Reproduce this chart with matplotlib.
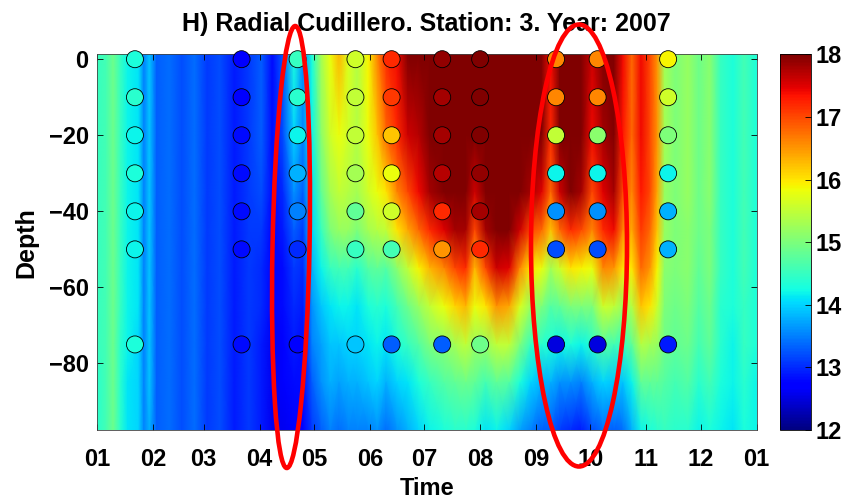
import numpy as np
import matplotlib
matplotlib.use("Agg")
import matplotlib.pyplot as plt
from matplotlib.patches import Ellipse

plt.rcParams['font.family'] = 'Liberation Sans'
plt.rcParams['font.weight'] = 'bold'

# model field: day of year (2007) and depth levels (m)
days = [0, 5, 9, 13, 17, 23, 26, 29, 33, 40, 47, 54, 61, 68, 76, 84, 91, 97, 103, 109,
        114, 119, 124, 129, 134, 139, 144, 150, 155, 160, 166, 172, 178, 184, 192, 198, 204, 209, 215, 221,
        228, 234, 240, 246, 251, 256, 262, 268, 274, 280, 286, 291, 296, 301, 306, 310, 314, 320, 327, 333,
        339, 345, 352, 358, 365]
levels = [1.3, -20, -35, -45, -55, -65, -75, -85, -97.5]

# temperature (degC) along each depth level
t_surf = [14.5, 14.6, 14.9, 14.5, 14.2, 14.1, 13.5, 13.9, 13.3, 13.4, 13.2, 13.4, 13.1, 13.2, 12.9,
          13.1, 13.3, 12.8, 13.3, 14.3, 13.6, 14.3, 15.3, 15.8, 16.3, 15.7, 15.4, 15.9, 16.6, 17.2,
          17.4, 18.0, 18.0, 18.0, 18.0, 18.0, 18.0, 18.0, 18.0, 18.0, 18.0, 18.0, 18.0, 18.0, 17.4,
          18.0, 18.0, 18.0, 17.6, 18.0, 18.0, 17.4, 16.8, 17.4, 17.0, 16.5, 15.3, 15.0, 15.2, 14.9,
          15.1, 14.5, 14.3, 14.6, 14.3]
t_20 = [14.5, 14.6, 14.9, 14.5, 14.2, 14.1, 13.5, 13.9, 13.3, 13.4, 13.2, 13.4, 13.1, 13.2, 12.9,
        13.1, 13.3, 12.8, 13.2, 14.0, 13.5, 14.2, 15.1, 15.6, 15.8, 15.6, 15.4, 15.8, 16.2, 16.8,
        17.2, 17.6, 17.7, 18.0, 18.0, 18.0, 18.0, 18.0, 18.0, 18.0, 18.0, 18.0, 18.0, 18.0, 17.2,
        18.0, 18.0, 18.0, 17.4, 17.8, 18.0, 17.3, 16.8, 17.4, 17.0, 16.5, 15.3, 15.0, 15.2, 14.9,
        15.1, 14.5, 14.3, 14.6, 14.3]
t_35 = [14.5, 14.6, 14.9, 14.5, 14.2, 14.1, 13.5, 13.9, 13.3, 13.4, 13.2, 13.4, 13.1, 13.2, 12.9,
        13.1, 13.2, 12.8, 13.0, 13.6, 13.3, 14.1, 14.8, 15.3, 15.5, 15.4, 15.3, 15.6, 15.8, 16.0,
        16.6, 17.0, 17.4, 17.8, 18.0, 18.0, 18.0, 17.6, 18.0, 18.0, 18.0, 18.0, 17.8, 17.5, 16.8,
        17.6, 18.0, 17.8, 17.0, 17.5, 17.8, 17.0, 16.6, 17.3, 17.0, 16.4, 15.2, 15.0, 15.2, 14.9,
        15.1, 14.5, 14.3, 14.6, 14.3]
t_45 = [14.5, 14.6, 14.9, 14.5, 14.2, 14.1, 13.5, 13.9, 13.3, 13.4, 13.2, 13.4, 13.1, 13.2, 12.9,
        13.1, 13.1, 12.7, 12.9, 13.3, 13.1, 14.0, 14.5, 15.0, 15.2, 15.2, 15.0, 15.3, 15.4, 15.5,
        16.0, 16.4, 16.8, 17.2, 17.5, 17.8, 17.8, 17.0, 17.8, 18.0, 18.0, 17.6, 17.0, 16.8, 16.2,
        16.8, 17.2, 17.0, 16.6, 17.2, 17.4, 16.6, 16.4, 17.1, 16.8, 16.2, 15.2, 15.0, 15.1, 14.9,
        15.0, 14.5, 14.3, 14.6, 14.3]
t_55 = [14.5, 14.6, 14.9, 14.5, 14.2, 14.1, 13.5, 13.9, 13.3, 13.4, 13.2, 13.4, 13.1, 13.2, 12.9,
        13.1, 13.0, 12.7, 12.8, 13.1, 13.0, 13.8, 14.2, 14.5, 14.6, 14.6, 14.4, 14.7, 14.8, 14.7,
        15.1, 15.5, 15.9, 16.3, 16.6, 17.0, 17.2, 16.3, 17.0, 17.6, 17.5, 16.6, 16.0, 15.8, 15.3,
        15.6, 16.0, 15.9, 15.8, 16.6, 16.5, 16.0, 16.0, 16.8, 16.5, 15.9, 15.1, 15.0, 15.1, 14.8,
        15.0, 14.5, 14.3, 14.6, 14.3]
t_65 = [14.5, 14.6, 14.9, 14.5, 14.2, 14.1, 13.5, 13.9, 13.3, 13.4, 13.2, 13.4, 13.1, 13.2, 12.9,
        13.1, 13.0, 12.7, 12.8, 13.0, 12.9, 13.6, 13.9, 14.1, 14.2, 14.2, 14.1, 14.3, 14.4, 14.3,
        14.6, 14.9, 15.2, 15.5, 15.8, 16.1, 16.3, 15.8, 16.0, 16.5, 16.4, 15.7, 15.2, 15.0, 14.7,
        14.8, 15.0, 15.0, 15.0, 15.6, 15.5, 15.2, 15.4, 16.2, 16.0, 15.6, 15.0, 14.9, 15.0, 14.7,
        14.9, 14.4, 14.3, 14.5, 14.3]
t_75 = [14.5, 14.6, 14.9, 14.4, 14.2, 14.0, 13.5, 13.9, 13.3, 13.4, 13.2, 13.4, 13.1, 13.2, 12.9,
        13.1, 12.9, 12.6, 12.7, 12.9, 12.8, 13.5, 13.7, 13.9, 13.9, 14.0, 14.0, 14.1, 14.2, 14.1,
        14.3, 14.5, 14.7, 15.0, 15.1, 15.3, 15.5, 15.2, 15.2, 15.5, 15.5, 15.0, 14.5, 14.4, 14.3,
        14.2, 14.3, 14.2, 14.4, 14.7, 14.6, 14.5, 14.8, 15.4, 15.3, 15.2, 14.9, 14.8, 14.9, 14.6,
        14.8, 14.4, 14.2, 14.5, 14.3]
t_85 = [14.4, 14.6, 14.9, 14.4, 14.1, 14.0, 13.5, 13.9, 13.3, 13.4, 13.2, 13.4, 13.1, 13.2, 12.9,
        13.1, 12.9, 12.6, 12.7, 12.8, 12.8, 13.3, 13.6, 13.8, 13.7, 13.8, 13.8, 13.9, 14.0, 13.8,
        14.0, 14.1, 14.3, 14.5, 14.7, 14.8, 14.9, 14.8, 14.6, 14.8, 14.7, 14.3, 14.0, 13.8, 13.8,
        13.6, 13.6, 13.5, 13.8, 14.0, 13.9, 13.9, 14.2, 14.8, 14.8, 14.8, 14.7, 14.6, 14.7, 14.4,
        14.6, 14.3, 14.2, 14.4, 14.2]
t_bottom = [14.4, 14.6, 14.9, 14.4, 14.1, 14.0, 13.5, 13.8, 13.3, 13.4, 13.2, 13.4, 13.1, 13.2, 12.9,
            13.1, 12.9, 12.6, 12.6, 12.7, 12.7, 13.1, 13.3, 13.5, 13.4, 13.5, 13.5, 13.5, 13.6, 13.4,
            13.6, 13.8, 14.0, 14.2, 14.3, 14.4, 14.4, 14.3, 14.1, 14.2, 14.0, 13.7, 13.5, 13.3, 13.3,
            13.1, 13.0, 12.9, 13.2, 13.4, 13.3, 13.4, 13.8, 14.2, 14.3, 14.4, 14.5, 14.4, 14.4, 14.2,
            14.3, 14.2, 14.1, 14.3, 14.2]

# CTD station observations
st_days = [21, 80, 111, 143, 163, 191, 212, 254, 277, 316]
st_depths = [0, -10, -20, -30, -40, -50, -75]
obs_0 = [14.3, 12.7, 14.5, 15.6, 17.2, 17.9, 18.0, 16.6, 16.6, 15.9]
obs_10 = [14.4, 12.7, 14.4, 15.5, 17.1, 17.8, 18.0, 16.6, 16.6, 15.6]
obs_20 = [14.2, 12.8, 14.2, 15.5, 16.2, 17.8, 18.0, 15.5, 15.1, 15.0]
obs_30 = [14.3, 12.8, 13.8, 15.3, 15.8, 17.7, 17.9, 14.2, 14.2, 14.2]
obs_40 = [14.2, 12.8, 13.5, 14.8, 15.6, 17.2, 17.8, 13.6, 13.6, 13.8]
obs_50 = [14.2, 12.8, 13.0, 14.5, 14.6, 16.5, 17.2, 13.2, 13.2, 13.8]
obs_75 = [14.3, 12.8, 12.7, 13.9, 13.3, 13.3, 14.9, 12.5, 12.5, 12.9]

month_starts = [0, 31, 59, 90, 120, 151, 181, 212, 243, 273, 304, 334, 365]
month_labels = ['01', '02', '03', '04', '05', '06', '07', '08', '09', '10', '11', '12', '01']

field = np.array([t_surf, t_20, t_35, t_45, t_55, t_65, t_75, t_85, t_bottom])
obs = np.array([obs_0, obs_10, obs_20, obs_30, obs_40, obs_50, obs_75])

fig = plt.figure(figsize=(8.59, 5.01), dpi=100)
ax = fig.add_axes([0.1129, 0.1417, 0.768, 0.750])
cax = fig.add_axes([0.908, 0.1417, 0.036, 0.750])

mesh = ax.pcolormesh(days, levels, field, shading='gouraud', cmap='jet', vmin=12, vmax=18)

X, Y = np.meshgrid(st_days, st_depths)
ax.scatter(X.ravel(), Y.ravel(), c=obs.ravel(), cmap='jet', vmin=12, vmax=18,
           s=150, edgecolors='black', linewidths=0.6, clip_on=False, zorder=3)

ax.set_xlim(0, 365)
ax.set_ylim(-97.5, 1.3)
ax.set_xticks(month_starts)
ax.set_xticklabels(month_labels)
ax.set_yticks([0, -20, -40, -60, -80])
ax.tick_params(direction='in', length=4, width=0.6, labelsize=17, top=True, right=True)
ax.tick_params(axis='x', pad=13)
ax.tick_params(axis='y', pad=6)
for sp in ax.spines.values():
    sp.set_linewidth(0.6)
    sp.set_color('#444444')

ax.set_title('H) Radial Cudillero. Station: 3. Year: 2007', fontsize=18, fontweight='bold', pad=17)
ax.set_xlabel('Time', fontsize=17, fontweight='bold', labelpad=4)
ax.set_ylabel('Depth', fontsize=18, fontweight='bold', labelpad=7)

cb = fig.colorbar(mesh, cax=cax)
cb.set_ticks([12, 13, 14, 15, 16, 17, 18])
cb.ax.tick_params(labelsize=17, direction='in', length=4, width=0.6)
cb.outline.set_linewidth(0.6)

# red highlight ellipses (figure inches)
fig.add_artist(Ellipse((2.91, 2.54), 0.37, 4.42, angle=-1.1, fill=False,
                       edgecolor='#ff0000', linewidth=3.3, transform=fig.dpi_scale_trans, zorder=10))
fig.add_artist(Ellipse((5.79, 2.555), 0.96, 4.42, angle=0, fill=False,
                       edgecolor='#ff0000', linewidth=3.3, transform=fig.dpi_scale_trans, zorder=10))

fig.savefig('out.png', dpi=100)
